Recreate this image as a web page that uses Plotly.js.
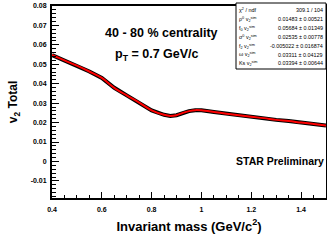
<!DOCTYPE html>
<html><head><meta charset="utf-8">
<script src="https://cdn.plot.ly/plotly-3.0.1.min.js"></script>
<style>html,body{margin:0;padding:0;background:#fff}#chart{width:327px;height:240px}</style>
</head><body><div id="chart"></div>
<script>
const massData = [0.40,0.45,0.50,0.55,0.60,0.65,0.70,0.75,0.80,0.85,0.875,0.90,0.925,0.95,0.975,1.00,1.05,1.10,1.15,1.20,1.25,1.30,1.35,1.40,1.45,1.50];
const v2Data   = [0.0548,0.0520,0.0493,0.0463,0.0430,0.0379,0.0340,0.0303,0.0263,0.0240,0.0234,0.0238,0.0250,0.0259,0.0264,0.0263,0.0255,0.0246,0.0238,0.0230,0.0223,0.0214,0.0208,0.0200,0.0193,0.0185];
const v2Fit    = [0.0548,0.0520,0.0493,0.0463,0.0430,0.0379,0.0340,0.0303,0.0263,0.0240,0.0234,0.0238,0.0250,0.0259,0.0264,0.0263,0.0255,0.0246,0.0238,0.0230,0.0223,0.0214,0.0208,0.0200,0.0193,0.0185];
const yTickVals = [-0.01,0,0.01,0.02,0.03,0.04,0.05,0.06,0.07,0.08];
const yTickText = ["-0.01","0","0.01","0.02","0.03","0.04","0.05","0.06","0.07","0.08"];
const xTickVals = [0.4,0.6,0.8,1.0,1.2,1.4];
const xTickText = ["0.4","0.6","0.8","1","1.2","1.4"];
const statNames = ["χ<sup>2</sup> / ndf","ρ<sup>0</sup> v<sub>2</sub><sup>sim</sup>","f<sub>0</sub> v<sub>2</sub><sup>sim</sup>","σ<sup>0</sup> v<sub>2</sub><sup>sim</sup>","f<sub>2</sub> v<sub>2</sub><sup>sim</sup>","ω v<sub>2</sub><sup>sim</sup>","Ks v<sub>2</sub><sup>sim</sup>"];
const statValues = ["309.1 / 104","0.01483 ± 0.00521","0.05684 ± 0.01349","0.02535 ± 0.00778","-0.005022 ± 0.016874","0.03311 ± 0.04129","0.03394 ± 0.00644"];

const FONT = "Liberation Sans, Arial, sans-serif";
const W = 327, H = 240;
const rowY = [10, 19.3, 28.3, 37.3, 46, 55, 63.3];

const traces = [
  {x: massData, y: v2Data, mode: 'lines', line: {color: '#000', width: 4}, hoverinfo: 'skip'},
  {x: massData, y: v2Fit, mode: 'lines', line: {color: '#ff0000', width: 2, shape: 'spline'}, hoverinfo: 'skip'}
];

const annotations = [
  {xref:'paper', yref:'paper', x:(161-52)/274, y:1-(33-6)/192, text:'40 - 80 % centrality', showarrow:false, xanchor:'center', yanchor:'middle', font:{family:FONT, size:12.5, color:'#000', weight:'bold'}},
  {xref:'paper', yref:'paper', x:(157-52)/274, y:1-(55-6)/192, text:'p<sub>T</sub> = 0.7 GeV/c', showarrow:false, xanchor:'center', yanchor:'middle', font:{family:FONT, size:12.5, color:'#000', weight:'bold'}},
  {xref:'paper', yref:'paper', x:(326-52)/274, y:1-(161-6)/192, text:'STAR Preliminary', showarrow:false, xanchor:'right', yanchor:'middle', font:{family:FONT, size:10.5, color:'#000', weight:'bold'}}
];
statNames.forEach((n,i)=>{
  annotations.push({xref:'paper', yref:'paper', x:(237-52)/274, y:1-(rowY[i]-6)/192, text:n, showarrow:false, xanchor:'left', yanchor:'middle', font:{family:FONT, size:5.4, color:'#000'}});
  annotations.push({xref:'paper', yref:'paper', x:(325-52)/274, y:1-(rowY[i]-6)/192, text:statValues[i], showarrow:false, xanchor:'right', yanchor:'middle', font:{family:FONT, size:5.4, color:'#000'}});
});

const layout = {
  width: W, height: H,
  margin: {l:52, r:1, t:6, b:42, pad:0},
  paper_bgcolor:'#fff', plot_bgcolor:'#fff',
  showlegend:false,
  xaxis: {
    range:[0.4,1.5], tickvals:xTickVals, ticktext:xTickText,
    ticks:'inside', ticklen:6, tickwidth:1, tickcolor:'#000',
    minor:{dtick:0.05, tick0:0.4, ticks:'inside', ticklen:3, tickcolor:'#000', showgrid:false},
    showline:true, linecolor:'#000', linewidth:2, mirror:true,
    showgrid:false, zeroline:false, ticklabelstandoff:4,
    tickfont:{family:FONT, size:7, color:'#000', weight:'bold'},
    title:{text:'Invariant mass (GeV/c<sup>2</sup>)', font:{family:FONT, size:13, color:'#000', weight:'bold'}, standoff:9}
  },
  yaxis: {
    range:[-0.0188,0.08], tickvals:yTickVals, ticktext:yTickText,
    ticks:'inside', ticklen:7, tickwidth:1, tickcolor:'#000',
    minor:{dtick:0.002, tick0:0, ticks:'inside', ticklen:3.5, tickcolor:'#000', showgrid:false},
    showline:true, linecolor:'#000', linewidth:2, mirror:true,
    showgrid:false, zeroline:false, ticklabelstandoff:2,
    tickfont:{family:FONT, size:7, color:'#000', weight:'bold'},
    title:{text:'v<sub>2</sub> Total', font:{family:FONT, size:12, color:'#000', weight:'bold'}, standoff:10}
  },
  shapes: [
    {type:'rect', xref:'paper', yref:'paper', x0:(236-52)/274, x1:(326-52)/274, y0:1-(69-6)/192, y1:1-(3-6)/192, line:{color:'#000', width:1}, fillcolor:'#fff', layer:'above'}
  ],
  annotations: annotations
};
Plotly.newPlot('chart', traces, layout, {staticPlot:true, displayModeBar:false});
</script></body></html>
